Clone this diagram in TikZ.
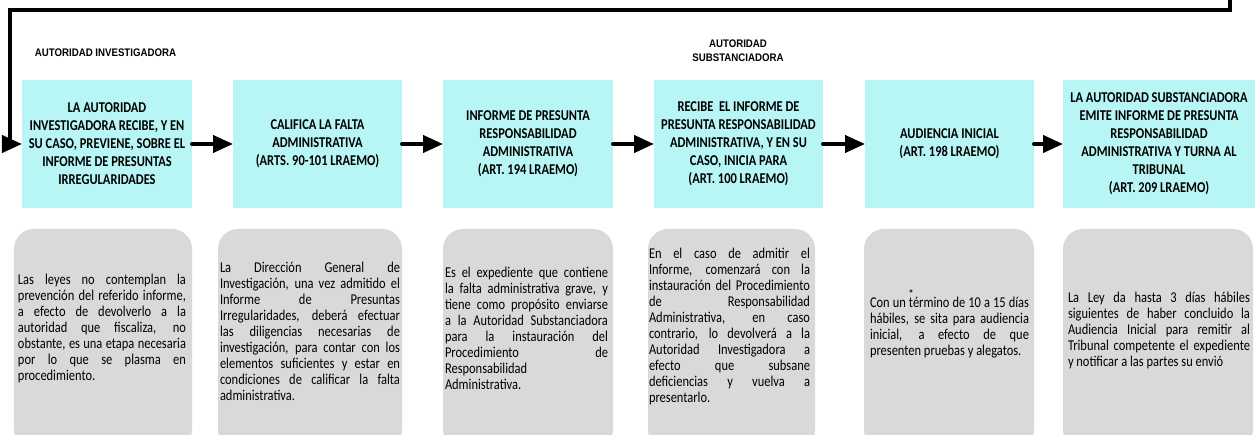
\documentclass[tikz,border=0pt]{standalone}
\usepackage{fontspec}
\usetikzlibrary{arrows.meta}
\newfontfamily\cajafont[FakeStretch=0.83]{Carlito}
\newfontfamily\titulofont[FakeStretch=0.88]{Liberation Sans}
\definecolor{pasocian}{RGB}{184,246,245}
\definecolor{notagris}{RGB}{217,217,217}

\tikzset{
  paso/.style={fill=pasocian, minimum width=170bp, minimum height=128bp, inner sep=0pt, outer sep=0pt,
    align=center, font=\cajafont\bfseries\fontsize{15bp}{18bp}\selectfont},
  nota/.style={fill=notagris, rounded corners=20bp, minimum height=221bp, inner sep=0pt, outer sep=0pt},
  notatexto/.style={align=justify, inner sep=0pt, font=\cajafont\fontsize{15bp}{16bp}\selectfont,
    execute at begin node={\tolerance=10000\hyphenpenalty=10000}},
  titulo/.style={align=center, inner sep=0pt, font=\titulofont\bfseries\fontsize{11bp}{14bp}\selectfont},
  flecha/.style={line width=4bp, line cap=round, -{Triangle[length=20bp,width=17bp]}},
  retorno/.style={line width=4bp, -{Triangle[length=20bp,width=17bp]}},
}

\begin{document}
\begin{tikzpicture}[x=1bp, y=-1bp]
    \fill[white] (0,0) rectangle (1258,435);
    \clip (0,0) rectangle (1258,435);

    \node[titulo] at (105.5,53) (lblinv) {AUTORIDAD INVESTIGADORA};
    \node[titulo] at (738,51) (lblsub) {AUTORIDAD\\SUBSTANCIADORA};

    \node[paso] at (107,144) (b1) {LA AUTORIDAD\\INVESTIGADORA RECIBE, Y EN\\SU CASO, PREVIENE, SOBRE EL\\INFORME DE PRESUNTAS\\IRREGULARIDADES};
    \node[paso, minimum width=169bp] at (317.5,144) (b2) {CALIFICA LA FALTA\\ADMINISTRATIVA\\(ARTS. 90-101 LRAEMO)};
    \node[paso] at (528,144) (b3) {INFORME DE PRESUNTA\\RESPONSABILIDAD\\ADMINISTRATIVA\\(ART. 194 LRAEMO)};
    \node[paso, minimum width=169bp] at (738.5,144) (b4) {RECIBE\ \ EL INFORME DE\\PRESUNTA RESPONSABILIDAD\\ADMINISTRATIVA, Y EN SU\\CASO, INICIA PARA\\(ART. 100 LRAEMO)};
    \node[paso, minimum width=169bp] at (949.5,144) (b5) {AUDIENCIA INICIAL\\(ART. 198 LRAEMO)};
    \node[paso, minimum width=192bp] at (1159,144) (b6) {LA AUTORIDAD SUBSTANCIADORA\\EMITE INFORME DE PRESUNTA\\RESPONSABILIDAD\\ADMINISTRATIVA Y TURNA AL\\TRIBUNAL\\(ART. 209 LRAEMO)};

    \coordinate (ret0) at (1230,-5);
    \coordinate (ret1) at (10,10);
    \draw[retorno] (ret0) |- (ret1) |- (b1);

    \draw[flecha] (b1) -- (b2);
    \draw[flecha] (b2) -- (b3);
    \draw[flecha] (b3) -- (b4);
    \draw[flecha] (b4) -- (b5);
    \draw[flecha] (b5) -- (b6);

    \node[nota, minimum width=178bp] at (103,339.5) (n1) {};
    \node[nota, minimum width=184bp] at (310,339.5) (n2) {};
    \node[nota, minimum width=170bp] at (528,339.5) (n3) {};
    \node[nota, minimum width=167bp] at (731.5,339.5) (n4) {};
    \node[nota, minimum width=170bp] at (949,339.5) (n5) {};
    \node[nota, minimum width=190bp] at (1158,339.5) (n6) {};

    \node[notatexto, text width=168bp] at (102,329) (t1) {Las leyes no contemplan la\linebreak
      prevención del referido informe,\linebreak
      a efecto de devolverlo a la\linebreak
      autoridad que fiscaliza, no\linebreak
      obstante, es una etapa necesaria\linebreak
      por lo que se plasma en\linebreak
      procedimiento.};
    \node[notatexto, text width=180bp] at (310,331) (t2) {La Dirección General de\linebreak
      Investigación, una vez admitido el\linebreak
      Informe de Presuntas\linebreak
      Irregularidades, deberá efectuar\linebreak
      las diligencias necesarias de\linebreak
      investigación, para contar con los\linebreak
      elementos suficientes y estar en\linebreak
      condiciones de calificar la falta\linebreak
      administrativa.};
    \node[notatexto, text width=163bp] at (526.5,328) (t3) {Es el expediente que contiene\linebreak
      la falta administrativa grave, y\linebreak
      tiene como propósito enviarse\linebreak
      a la Autoridad Substanciadora\linebreak
      para la instauración del\linebreak
      Procedimiento de\linebreak
      Responsabilidad\linebreak
      Administrativa.};
    \node[notatexto, text width=161bp] at (729.5,327) (t4) {En el caso de admitir el\linebreak
      Informe, comenzará con la\linebreak
      instauración del Procedimiento\linebreak
      de Responsabilidad\linebreak
      Administrativa, en caso\linebreak
      contrario, lo devolverá a la\linebreak
      Autoridad Investigadora a\linebreak
      efecto que subsane\linebreak
      deficiencias y vuelva a\linebreak
      presentarlo.};
    \node[notatexto, text width=159bp] at (949.5,328) (t5) {Con un término de 10 a 15 días\linebreak
      hábiles, se sita para audiencia\linebreak
      inicial, a efecto de que\linebreak
      presenten pruebas y alegatos.};
    \node[circle, draw, inner sep=0pt, minimum size=2.5bp, line width=0.4bp] at (911,291) (marca) {};
    \node[notatexto, text width=182bp] at (1159,331) (t6) {La Ley da hasta 3 días hábiles\linebreak
      siguientes de haber concluido la\linebreak
      Audiencia Inicial para remitir al\linebreak
      Tribunal competente el expediente\linebreak
      y notificar a las partes su envió};
\end{tikzpicture}
\end{document}
